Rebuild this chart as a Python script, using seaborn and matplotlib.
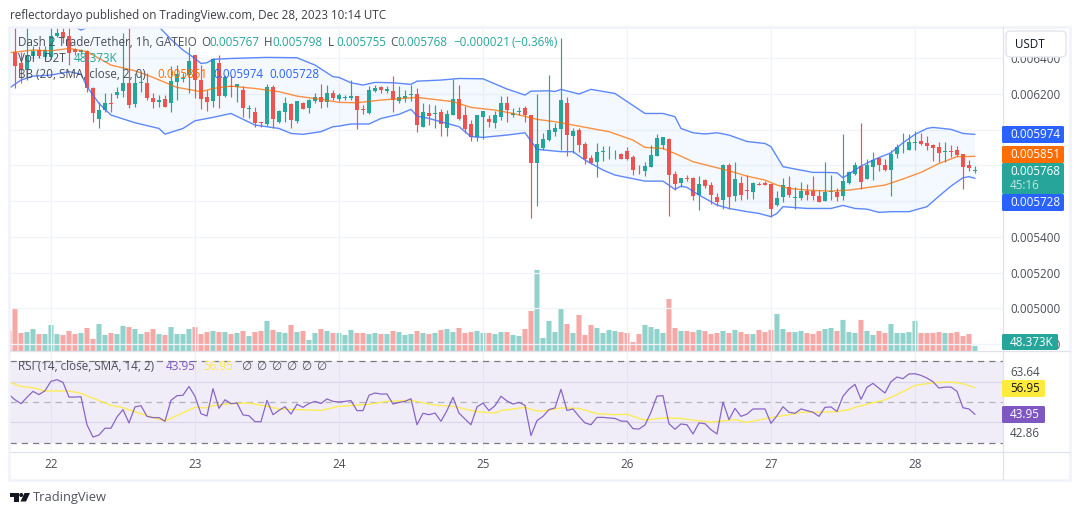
"""Dash 2 Trade/Tether 1h chart with Bollinger bands, volume and RSI panes."""
import numpy as np
import pandas as pd
import matplotlib
matplotlib.use("Agg")
import matplotlib.pyplot as plt
from matplotlib.patches import Rectangle, FancyBboxPatch, Circle, Polygon
import seaborn as sns

W, H = 1080, 515
UP = "#26a69a"
DOWN = "#ef5350"
BLUE = "#2962ff"
ORANGE = "#ff6d00"
PURPLE = "#7e57c2"
YELLOW = "#ffeb3b"
GRID = "#f0f3fa"
BORDER = "#e0e3eb"
TEXT = "#4a4e59"

# prices are in millionths of a USDT, one entry per hourly candle starting at hour -1
opens = [6431,
         6437, 6371, 6334, 6412, 6446, 6409, 6409, 6524, 6549, 6524,
         6452, 6437, 6442, 6233, 6060, 6110, 6148, 6194, 6218, 6259,
         6143, 6263, 6259, 6175, 6157, 6171, 6151, 6269, 6284, 6306,
         6418, 6278, 6185, 6162, 6371, 6188, 6246, 6241, 6222, 6114,
         6099, 6041, 6031, 6237, 6045, 6097, 6143, 6050, 6149, 6119,
         6162, 6181, 6157, 6203, 6170, 6179, 6179, 6188, 6116, 6091,
         6216, 6241, 6216, 6216, 6160, 6177, 6194, 6200, 6017, 6093,
         6088, 6099, 6011, 6084, 6172, 6082, 6032, 5961, 6073, 6060,
         6037, 6071, 6149, 6082, 6102, 6121, 6082, 5815, 5897, 5942,
         5987, 6005, 6149, 5966, 5998, 5920, 5841, 5819, 5873, 5867,
         5867, 5864, 5880, 5847, 5776, 5768, 5793, 5852, 5914, 5948,
         5752, 5701, 5729, 5729, 5634, 5718, 5690, 5621, 5606, 5802,
         5628, 5701, 5662, 5651, 5696, 5701, 5696, 5578, 5623, 5679,
         5619, 5617, 5656, 5658, 5628, 5600, 5653, 5654, 5628, 5701,
         5751, 5796, 5724, 5791, 5839, 5802, 5774, 5864, 5884, 5886,
         5927, 5936, 5925, 5914, 5903, 5877, 5881, 5886, 5864, 5802, 5767]
highs = [6440,
         6600, 6437, 6600, 6470, 6470, 6470, 6600, 6600, 6600, 6600,
         6460, 6452, 6446, 6240, 6157, 6203, 6203, 6237, 6543, 6600,
         6315, 6306, 6315, 6203, 6194, 6194, 6356, 6362, 6315, 6461,
         6418, 6362, 6222, 6399, 6418, 6306, 6306, 6254, 6244, 6138,
         6129, 6045, 6256, 6250, 6110, 6185, 6147, 6158, 6157, 6170,
         6203, 6256, 6250, 6222, 6203, 6194, 6278, 6188, 6138, 6244,
         6250, 6244, 6244, 6300, 6244, 6222, 6250, 6231, 6147, 6144,
         6138, 6114, 6110, 6282, 6250, 6132, 6054, 6082, 6106, 6082,
         6106, 6188, 6188, 6119, 6125, 6132, 6082, 6200, 5979, 6306,
         6035, 6511, 6181, 6007, 6007, 5933, 5858, 5923, 5908, 5908,
         5886, 5867, 5901, 5858, 5802, 5821, 5914, 5975, 5961, 5953,
         5768, 5729, 5746, 5737, 5740, 5725, 5709, 5643, 5808, 5813,
         5819, 5740, 5746, 5709, 5709, 5712, 5696, 5656, 5729, 5740,
         5677, 5707, 5696, 5740, 5662, 5819, 5746, 5671, 5976, 5768,
         5819, 6035, 5834, 5875, 5845, 5836, 5886, 5920, 5979, 5976,
         5992, 5981, 5964, 5920, 5931, 5931, 5914, 5908, 5864, 5830, 5798]
lows = [6420,
        6231, 6259, 6278, 6399, 6399, 6395, 6395, 6521, 6483, 6362,
        6418, 6425, 6213, 6045, 6007, 6101, 6101, 6175, 6185, 6119,
        6125, 6213, 6166, 6119, 6129, 6129, 6101, 6166, 6269, 6203,
        6175, 6114, 6106, 6129, 6119, 6185, 6185, 6157, 6073, 6063,
        6017, 6017, 6020, 6007, 6039, 6045, 6008, 6035, 6114, 6091,
        6147, 6119, 6129, 6166, 6160, 6166, 6166, 6005, 6087, 6087,
        6213, 6207, 6207, 6101, 6151, 6157, 6162, 5989, 6017, 6026,
        6007, 5966, 5966, 6084, 6054, 5979, 5938, 5938, 5946, 6017,
        6011, 6054, 6045, 6073, 6082, 6041, 5505, 5572, 5886, 5938,
        5964, 5886, 5854, 5871, 5873, 5806, 5806, 5737, 5826, 5834,
        5834, 5834, 5830, 5746, 5751, 5740, 5793, 5852, 5890, 5516,
        5662, 5681, 5712, 5606, 5550, 5675, 5583, 5572, 5555, 5555,
        5602, 5606, 5611, 5611, 5690, 5690, 5513, 5572, 5595, 5623,
        5554, 5606, 5606, 5606, 5597, 5600, 5606, 5602, 5606, 5696,
        5748, 5668, 5722, 5718, 5768, 5770, 5628, 5843, 5871, 5886,
        5886, 5914, 5886, 5824, 5819, 5819, 5845, 5852, 5668, 5768, 5755]
closes = [6427,
          6356, 6334, 6418, 6442, 6412, 6446, 6524, 6543, 6521, 6431,
          6437, 6446, 6231, 6095, 6110, 6147, 6144, 6213, 6259, 6138,
          6259, 6267, 6175, 6157, 6166, 6129, 6272, 6311, 6288, 6384,
          6278, 6173, 6157, 6394, 6188, 6293, 6242, 6254, 6119, 6118,
          6039, 6037, 6237, 6059, 6104, 6147, 6054, 6158, 6117, 6166,
          6181, 6157, 6203, 6175, 6194, 6183, 6188, 6110, 6112, 6222,
          6233, 6222, 6228, 6166, 6181, 6188, 6198, 6026, 6099, 6076,
          6092, 6032, 6088, 6172, 6058, 6004, 5961, 6082, 6104, 6045,
          6082, 6149, 6110, 6093, 6106, 6082, 5815, 5920, 5948, 5998,
          6009, 6166, 5970, 5992, 5914, 5836, 5813, 5875, 5877, 5871,
          5871, 5836, 5834, 5774, 5772, 5796, 5858, 5953, 5959, 5748,
          5696, 5729, 5725, 5628, 5696, 5684, 5634, 5595, 5802, 5623,
          5724, 5634, 5658, 5701, 5692, 5690, 5556, 5617, 5690, 5634,
          5623, 5656, 5634, 5628, 5597, 5651, 5657, 5623, 5712, 5763,
          5802, 5707, 5802, 5830, 5802, 5774, 5864, 5903, 5888, 5931,
          5931, 5920, 5908, 5897, 5869, 5881, 5877, 5858, 5791, 5785, 5768]

# volume in thousands
volumes = [192,
           413, 173, 182, 211, 163, 163, 250, 163, 154, 192,
           163, 173, 221, 115, 259, 154, 173, 163, 240, 230,
           211, 163, 182, 211, 163, 154, 230, 163, 163, 211,
           230, 163, 182, 192, 182, 182, 163, 173, 192, 144,
           182, 192, 288, 202, 182, 173, 250, 182, 192, 106,
           173, 211, 192, 173, 173, 154, 202, 173, 173, 163,
           173, 163, 163, 192, 182, 154, 163, 192, 173, 163,
           173, 202, 211, 182, 221, 173, 182, 192, 173, 173,
           163, 182, 182, 154, 144, 211, 384, 778, 125, 288,
           182, 403, 259, 173, 346, 154, 250, 221, 173, 202,
           192, 182, 173, 86, 163, 250, 230, 211, 173, 499,
           221, 192, 192, 182, 202, 192, 163, 173, 192, 173,
           202, 182, 163, 163, 202, 182, 202, 355, 211, 182,
           182, 192, 173, 163, 192, 211, 221, 192, 298, 182,
           173, 298, 192, 154, 192, 173, 259, 173, 173, 182,
           288, 173, 173, 173, 182, 173, 173, 182, 144, 163, 48.373]

rsi = [53.6,
       51.1, 49.2, 52.3, 55.2, 53.6, 55.5, 60.1, 60.9, 59.6, 52.4,
       52.4, 52.6, 38.9, 32.9, 33.9, 37.2, 37.2, 42.7, 46.3, 39.8,
       47.6, 48.2, 43.0, 42.4, 42.4, 40.6, 50.8, 53.1, 53.3, 57.6,
       52.8, 44.3, 43.2, 56.5, 46.9, 51.1, 49.2, 49.5, 43.7, 43.3,
       40.4, 40.4, 50.8, 43.8, 45.9, 47.7, 44.1, 48.9, 47.4, 49.3,
       50.3, 49.3, 51.5, 50.3, 50.0,
       50.3, 50.7, 45.8, 45.8, 53.3, 54.4, 53.9, 53.9, 49.0, 49.8,
       50.3, 51.6, 38.9, 44.5, 43.8, 44.6, 40.6, 45.8, 52.3, 44.6,
       41.7, 38.9, 47.6, 49.5, 45.8, 48.2, 52.8, 50.5, 49.0, 49.8,
       48.4, 33.6, 40.9, 43.0, 46.3, 47.1, 56.2, 45.9, 46.6, 43.0,
       39.8, 38.9, 42.5, 42.5, 42.2, 42.0, 40.7, 40.6, 37.0, 36.8,
       38.8, 45.0, 52.9, 53.1, 39.4, 36.7, 39.3,
       38.9, 34.4, 39.8, 39.4, 36.5, 34.4, 50.0, 41.4, 46.9, 43.0,
       44.1, 46.6, 46.6, 46.6, 39.6, 43.3, 47.7, 45.0, 44.5, 46.6,
       45.8, 45.0, 43.0, 47.4, 47.6, 45.4, 52.8, 56.3, 58.6, 51.3,
       57.2, 59.1, 56.7, 54.4, 59.9, 62.2, 61.4, 63.7, 63.8, 63.0,
       61.7, 59.9, 56.8, 57.3, 57.3, 55.2, 47.2, 46.6, 43.95]

# indicator lines, read at the hours where they bend
upper_hours = [-1, 9, 10, 11, 12, 13, 18, 22, 24, 26, 28, 30, 31, 32, 33, 36, 42, 47, 50, 53,
               54, 56, 58, 60, 63, 66, 67, 71, 74, 78, 82, 85, 86, 89, 90, 91, 94, 96, 100,
               105, 108, 110, 111, 113, 115, 117, 119, 122, 125, 126, 128, 130, 133, 135, 137,
               138, 139, 141, 143, 146, 148, 150, 152, 153, 156, 158, 160]
upper_band = [6640, 6640, 6577, 6558, 6573, 6640, 6620, 6620, 6577, 6506, 6446, 6399, 6371, 6375,
              6394, 6399, 6405, 6403, 6362, 6297, 6293, 6263, 6250, 6265, 6263, 6254, 6272, 6278,
              6287, 6285, 6228, 6194, 6216, 6218, 6214, 6226, 6200, 6226, 6203, 6091, 6091, 6073,
              6007, 5983, 5976, 5983, 5970, 5934, 5923, 5905, 5793, 5780, 5761, 5761, 5759, 5731,
              5752, 5796, 5830, 5871, 5927, 5974, 6007, 6013, 6002, 5979, 5974]
lower_hours = [-1, 1, 3, 6, 9, 11, 12, 14, 16, 20, 24, 25, 28, 30, 33, 36, 40, 44, 46, 48, 51, 53,
               54, 56, 59, 61, 64, 66, 67, 69, 72, 74, 76, 78, 82, 85, 87, 91, 93, 95, 98, 100,
               105, 108, 110, 111, 112, 114, 117, 119, 122, 124, 126, 127, 128, 132, 136, 138,
               140, 142, 144, 146, 149, 152, 154, 156, 158, 159, 160]
lower_band = [6231, 6278, 6300, 6306, 6325, 6311, 6241, 6147, 6082, 6039, 6007, 5975, 6007, 6050,
              6069, 6091, 6026, 6007, 5979, 5974, 5989, 6017, 6020, 6032, 6032, 6063, 6086, 6114,
              6076, 6063, 6035, 6017, 5961, 5957, 5970, 5983, 5890, 5877, 5877, 5830, 5774, 5746,
              5712, 5712, 5666, 5684, 5677, 5634, 5578, 5559, 5541, 5531, 5513, 5531, 5569, 5559,
              5559, 5576, 5559, 5555, 5537, 5541, 5541, 5569, 5628, 5684, 5731, 5737, 5728]
basis_hours = [-1, 3, 6, 9, 12, 16, 20, 23, 27, 31, 33, 36, 40, 44, 47, 51, 54, 57, 61, 67, 73, 76,
               80, 83, 87, 90, 94, 99, 103, 105, 108, 110, 113, 117, 119, 122, 125, 127, 129, 132,
               136, 139, 141, 145, 148, 151, 154, 157, 160]
basis_band = [6431, 6446, 6442, 6455, 6437, 6362, 6330, 6293, 6237, 6213, 6231, 6244, 6231, 6213,
              6188, 6170, 6153, 6151, 6166, 6181, 6157, 6125, 6110, 6091, 6058, 6045, 6020, 5989,
              5942, 5901, 5895, 5867, 5821, 5787, 5770, 5740, 5718, 5690, 5671, 5662, 5656, 5662,
              5671, 5690, 5724, 5761, 5811, 5849, 5851]
rsi_ma_hours = [-1, 1, 3, 5, 9, 11, 14, 16, 18, 22, 25, 30, 32, 33, 36, 39, 42, 44, 47, 51, 54, 57,
                59, 62, 66, 70, 73, 77, 80, 81, 85, 87, 88, 91, 94, 97, 100, 102, 105, 108, 111,
                113, 116, 119, 120, 122, 126, 130, 131, 134, 137, 139, 140, 145, 147, 150, 153,
                156, 158, 160]
rsi_ma = [59.8, 57.6, 57.0, 55.4, 55.4, 54.2, 50.7, 48.4, 47.2, 43.3, 40.7, 47.4, 47.2, 48.2, 49.2,
          49.5, 47.9, 46.6, 46.3, 45.9, 47.9, 48.5, 48.9, 50.3, 50.8, 48.5, 47.9, 45.3, 44.6, 45.8,
          47.4, 45.6, 45.6, 47.1, 46.9, 44.3, 43.8, 44.0, 41.1, 42.2, 42.0, 41.1, 40.2, 41.1, 41.4,
          40.1, 42.4, 44.3, 45.0, 45.0, 45.3, 46.3, 47.4, 51.1, 53.6, 58.1, 59.4, 59.8, 58.9, 56.95]

price_ticks = [4800, 5000, 5200, 5400, 5600, 5800, 6000, 6200, 6400]
day_hours = [6, 30, 54, 78, 102, 126, 150]
day_labels = ["22", "23", "24", "25", "26", "27", "28"]


def fx(x):
    return x / W


def fy(y):
    return 1 - y / H


def label(x, y, s, color=TEXT, size=8.4, weight="normal", ha="left", z=12):
    fig.text(fx(x), fy(y), s, color=color, fontsize=size, fontweight=weight,
             ha=ha, va="center", zorder=z)


def tag(x0, y0, x1, y1, color):
    fig.add_artist(FancyBboxPatch((x0 + 1, y0 + 1), x1 - x0 - 2, y1 - y0 - 2,
                                  boxstyle="round,pad=1,rounding_size=1.5",
                                  transform=pixel_tf, facecolor=color, edgecolor="none", zorder=10))


def rule(x0, y0, x1, y1, color=BORDER, lw=0.9):
    fig.add_artist(plt.Line2D([x0, x1], [y0, y1], color=color, linewidth=lw,
                              transform=pixel_tf, zorder=5))


sns.set_theme(style="white")
plt.rcParams["font.family"] = ["Open Sans", "DejaVu Sans"]

hours = np.arange(-1, len(closes) - 1)
o = np.array(opens, dtype=float)
c = np.array(closes, dtype=float)
candle_colors = [UP if b >= a else DOWN for a, b in zip(o, c)]

fig = plt.figure(figsize=(W / 100, H / 100), dpi=100, facecolor="white")
# pixel coordinates with the origin at the top left of the picture
pixel_tf = matplotlib.transforms.Affine2D().scale(1 / W, -1 / H).translate(0, 1) + fig.transFigure

ax = fig.add_axes([fx(10), fy(351), fx(993), 324 / H])
ax_rsi = fig.add_axes([fx(10), fy(452), fx(993), 101 / H], sharex=ax)
ax_vol = ax.twinx()
ax_vol.set_zorder(1)
ax.set_zorder(2)
ax.patch.set_visible(False)

# volume pane
vol_df = pd.DataFrame({
    "hour": hours,
    "volume": volumes,
    "side": ["up" if b >= a else "down" for a, b in zip(o, c)],
})
sns.barplot(data=vol_df, x="hour", y="volume", hue="side", palette={"up": UP, "down": DOWN},
            native_scale=True, dodge=False, legend=False, width=0.84, saturation=1, alpha=0.5,
            linewidth=0, edgecolor="none", ax=ax_vol)
for bar in ax_vol.patches:
    bar.set_snap(False)  # snapping made the gaps between bars uneven
ax_vol.set_ylim(0, 3110)
ax_vol.set_yticks([])
ax_vol.set_xlabel("")
ax_vol.set_ylabel("")

# bollinger band
ax.fill(upper_hours + lower_hours[::-1], upper_band + lower_band[::-1],
        color="#2196f3", alpha=0.05, linewidth=0)
sns.lineplot(x=upper_hours, y=upper_band, color=BLUE, linewidth=1.0, alpha=0.75, ax=ax)
sns.lineplot(x=lower_hours, y=lower_band, color=BLUE, linewidth=1.0, alpha=0.75, ax=ax)
sns.lineplot(x=basis_hours, y=basis_band, color=ORANGE, linewidth=1.0, alpha=0.75, ax=ax)

# candles
ax.vlines(hours, lows, highs, colors=candle_colors, linewidth=0.85)
ax.bar(hours, np.maximum(np.abs(c - o), 5), bottom=np.minimum(o, c), width=0.8,
       color=candle_colors, linewidth=0)

ax.set_ylim(4760.8, 6575.2)
ax.set_yticks(price_ticks)
ax.set_yticklabels([f"{p / 1e6:.6f}" for p in price_ticks])
ax.yaxis.tick_right()
ax.tick_params(axis="y", length=0, pad=5.2, labelsize=8.4, labelcolor=TEXT)
ax.tick_params(axis="x", length=0, labelbottom=False)
ax.grid(True, color=GRID, linewidth=0.9)
ax.set_axisbelow(True)

# rsi pane
ax_rsi.axhspan(30, 70, color=PURPLE, alpha=0.1, linewidth=0)
ax_rsi.axhline(70, color="#787b86", linewidth=0.9, dashes=(5, 4))
ax_rsi.axhline(50, color="#b2b5be", linewidth=0.9, dashes=(5, 4))
ax_rsi.axhline(30, color="#787b86", linewidth=0.9, dashes=(5, 4))
sns.lineplot(x=rsi_ma_hours, y=rsi_ma, color="#fdec55", linewidth=1.0, ax=ax_rsi)
sns.lineplot(x=hours, y=rsi, color=PURPLE, linewidth=0.9, alpha=0.9, ax=ax_rsi)
ax_rsi.set_ylim(25.6, 74.9)
ax_rsi.yaxis.tick_right()
ax_rsi.set_yticks([65, 35.6])
ax_rsi.set_yticklabels(["63.64", "42.86"])
ax_rsi.tick_params(axis="y", length=0, pad=5.2, labelsize=8.4, labelcolor=TEXT)
ax_rsi.set_xticks(day_hours)
ax_rsi.set_xticklabels(day_labels)
ax_rsi.tick_params(axis="x", length=0, pad=4.5, labelsize=8.4, labelcolor=TEXT)
ax_rsi.grid(True, axis="x", color=GRID, linewidth=0.9)
for level in (40, 60):
    ax_rsi.axhline(level, color="#e6e3ef", linewidth=0.9, zorder=0.5)
ax_rsi.set_axisbelow(True)
ax_rsi.set_xlabel("")
ax_rsi.set_ylabel("")

ax.set_xlim(-0.83, 164.67)
for a in (ax, ax_vol, ax_rsi):
    for s in a.spines.values():
        s.set_visible(False)

# frame and pane separators
fig.add_artist(Rectangle((9, 26.5), 1061, 453, transform=pixel_tf, facecolor="none",
                         edgecolor=GRID, linewidth=1.8, zorder=5))
rule(1003, 27, 1003, 479)
rule(10, 351, 1070, 351)
rule(10, 452, 1070, 452)

# price scale tags
fig.add_artist(FancyBboxPatch((1007, 32), 58, 24, boxstyle="round,pad=1,rounding_size=4",
                              transform=pixel_tf, facecolor="white", edgecolor=BORDER,
                              linewidth=0.9, zorder=10))
label(1015, 44, "USDT", color="#131722")
tag(1002, 126, 1064, 143, BLUE)
label(1010, 134.5, "0.005974", color="white")
tag(1002, 146, 1064, 163, ORANGE)
label(1010, 154.5, "0.005851", color="white")
tag(1002, 163, 1064, 194, UP)
label(1010, 171.5, "0.005768", color="white")
label(1010, 185.5, "45:16", color="#bfe6e2")
tag(1002, 194, 1064, 211, BLUE)
label(1010, 202.5, "0.005728", color="white")
tag(1002, 334, 1058, 350, UP)
label(1010, 342, "48.373K", color="white")
tag(1002, 380, 1045, 397, YELLOW)
label(1010, 388.5, "56.95", color="#131722")
tag(1002, 406, 1045, 423, PURPLE)
label(1010, 414.5, "43.95", color="white")

# header and legends
label(10, 15, "reflectordayo published on TradingView.com, Dec 28, 2023 10:14 UTC", color="#3b3e46")
label(18, 42, "Dash 2 Trade/Tether, 1h, GATEIO")
for x, s in [(201, "O"), (264, "H"), (328, "L"), (390, "C")]:
    label(x, 42, s)
for x, s in [(209, "0.005767"), (272, "0.005798"), (336, "0.005755"), (397, "0.005768"),
             (453, "−0.000021"), (512, "(−0.36%)")]:
    label(x, 42, s, color=UP)
label(18, 58, "Vol · D2T")
label(74, 58, "48.373K", color=UP)
label(18, 75, "BB (20, SMA, close, 2, 0)")
label(157, 75, "0.005851", color=ORANGE)
label(213, 75, "0.005974", color=BLUE)
label(269, 75, "0.005728", color=BLUE)
label(18, 366, "RSI (14, close, SMA, 14, 2)")
label(166, 366, "43.95", color=PURPLE)
label(203, 366, "56.95", color=YELLOW)
for x in (241, 256, 271, 286, 301, 316):
    label(x, 366, "∅")

# footer logo
fig.add_artist(Rectangle((10, 493), 8.5, 3.8, transform=pixel_tf, facecolor="#131722",
                         linewidth=0, zorder=10))
fig.add_artist(Rectangle((14, 493), 4.5, 8.5, transform=pixel_tf, facecolor="#131722",
                         linewidth=0, zorder=10))
fig.add_artist(Circle((21.2, 495), 2.0, transform=pixel_tf, facecolor="#131722",
                      linewidth=0, zorder=10))
fig.add_artist(Polygon([(24.5, 493), (30, 493), (26, 501.5), (20.5, 501.5)], transform=pixel_tf,
                       facecolor="#131722", linewidth=0, zorder=10))
label(33, 497.5, "TradingView", color="#50535e", size=9.3)

fig.savefig("out.png", dpi=100)
